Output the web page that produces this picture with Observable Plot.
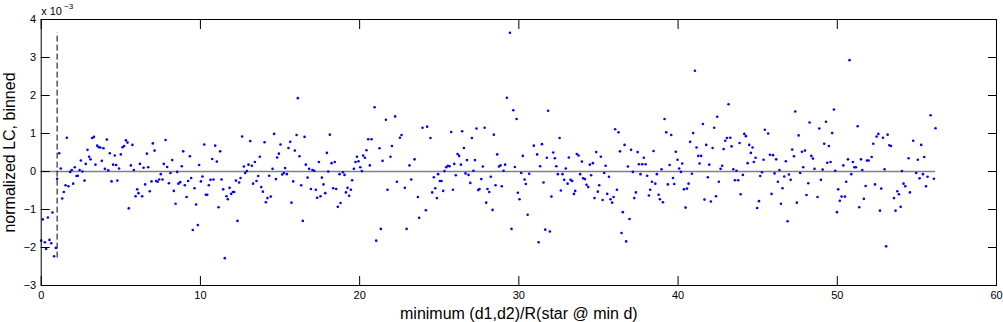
<!DOCTYPE html>
<html><head><meta charset="utf-8">
<script src="https://cdn.jsdelivr.net/npm/d3@7"></script>
<script src="https://cdn.jsdelivr.net/npm/@observablehq/plot@0.6"></script>
<style>
html,body{margin:0;padding:0;background:#fff;}
#chart svg{display:block;}
</style>
</head><body><div id="chart"></div>
<script>
// [x, y (×10^-3)], grouped by x range
const bins0to6 = [[0.00,-1.82],[0.10,-1.26],[0.23,-1.86],[0.31,-2.04],[0.42,-1.21],[0.52,-1.80],[0.63,-1.89],[0.71,-1.08],[0.81,-2.23],[0.92,-2.01],[1.00,-0.19],[1.13,0.48],[1.23,0.08],[1.32,-0.71],[1.42,-0.54],[1.53,-0.36],[1.61,0.89],[1.71,-0.39],[1.82,-0.01],[1.92,0.04],[2.01,-0.32],[2.11,0.11],[2.22,-0.12],[2.30,-0.11],[2.41,0.04],[2.49,0.29],[2.59,0.00],[2.72,-0.24],[2.80,0.20],[2.91,0.57],[3.01,0.39],[3.10,0.32],[3.20,0.88],[3.31,0.91],[3.41,0.18],[3.52,0.68],[3.62,0.64],[3.72,0.63],[3.81,0.28],[3.91,0.61],[4.00,0.07],[4.12,0.84],[4.21,0.03],[4.31,0.48],[4.42,-0.26],[4.52,0.18],[4.62,0.42],[4.71,0.17],[4.78,-0.24],[4.89,0.08],[5.00,0.45],[5.11,0.64],[5.21,0.67],[5.32,0.82],[5.42,0.76],[5.50,-0.97],[5.63,0.16],[5.73,0.70],[5.82,0.04],[5.93,-0.65],[6.03,-0.47],[6.11,-0.57],[6.20,0.20]];
const bins6to12 = [[6.34,-0.65],[6.43,0.10],[6.53,-0.34],[6.64,0.47],[6.72,0.11],[6.82,-0.52],[6.93,-0.26],[7.01,0.74],[7.12,0.55],[7.22,-0.25],[7.31,-0.27],[7.41,-0.21],[7.51,-0.07],[7.62,-0.21],[7.70,0.20],[7.81,0.83],[7.91,0.12],[8.02,-0.31],[8.12,-0.04],[8.23,0.30],[8.33,-0.51],[8.44,-0.85],[8.54,-0.01],[8.62,-0.32],[8.73,-0.28],[8.83,0.14],[8.92,0.53],[9.02,-0.36],[9.13,-0.67],[9.23,-0.25],[9.34,0.40],[9.42,-0.17],[9.52,-1.54],[9.63,-0.44],[9.73,-0.87],[9.84,-1.41],[9.92,0.17],[10.03,-0.26],[10.13,-0.13],[10.24,0.71],[10.34,-0.61],[10.43,-0.61],[10.53,-0.36],[10.63,-0.22],[10.74,0.33],[10.82,-0.21],[10.93,0.68],[11.03,0.26],[11.14,-0.94],[11.24,0.53],[11.33,-0.21],[11.43,-0.47],[11.53,-2.28],[11.64,-0.65],[11.72,-0.73],[11.83,-0.43],[11.93,-0.59],[12.04,-0.54],[12.12,-0.54],[12.23,-0.24],[12.33,-1.30],[12.43,-0.29],[12.52,-0.17]];
const bins12to19 = [[12.62,0.92],[12.73,0.13],[12.81,-0.04],[12.92,0.01],[13.02,0.18],[13.13,0.80],[13.23,0.15],[13.31,-0.32],[13.42,0.25],[13.52,-0.25],[13.63,-0.12],[13.73,0.39],[13.82,-0.41],[13.92,-0.53],[14.03,0.77],[14.11,-0.81],[14.21,-0.70],[14.32,-0.11],[14.42,-0.66],[14.53,0.07],[14.63,0.99],[14.74,-0.20],[14.82,0.37],[14.93,0.47],[15.03,0.71],[15.14,-0.08],[15.24,-0.04],[15.32,0.09],[15.43,-0.07],[15.53,0.62],[15.64,0.78],[15.72,-0.82],[15.83,-0.26],[15.93,0.55],[16.04,0.96],[16.12,1.93],[16.22,0.40],[16.33,-0.36],[16.43,-1.30],[16.54,0.91],[16.62,0.18],[16.73,-0.16],[16.83,0.07],[16.94,-0.46],[17.04,0.04],[17.15,0.02],[17.25,-0.48],[17.33,-0.69],[17.44,0.25],[17.54,-0.65],[17.63,-0.16],[17.73,-0.34],[17.84,-0.57],[17.94,0.49],[18.03,0.00],[18.13,0.97],[18.24,0.22],[18.34,-0.44],[18.44,0.25],[18.53,-0.46],[18.63,-0.93],[18.74,-0.07],[18.80,-0.83]];
const bins19to25 = [[18.95,-0.02],[19.05,-0.09],[19.14,-0.55],[19.24,-0.43],[19.34,-0.64],[19.45,-0.48],[19.53,-0.23],[19.64,0.07],[19.74,0.25],[19.83,0.39],[19.93,0.27],[20.04,0.11],[20.14,0.01],[20.22,0.42],[20.33,0.36],[20.43,0.56],[20.54,0.85],[20.64,0.16],[20.75,0.85],[20.94,1.69],[21.04,-1.82],[21.25,0.61],[21.33,-1.51],[21.44,0.28],[21.65,1.36],[21.75,-0.48],[21.94,0.39],[22.03,0.67],[22.23,1.45],[22.34,-0.27],[22.53,0.89],[22.63,0.96],[22.84,-0.43],[22.95,-1.51],[23.13,0.16],[23.24,-0.21],[23.45,0.32],[23.66,-0.67],[23.74,-1.22],[23.95,1.15],[24.16,-1.02],[24.24,1.18],[24.45,0.88],[24.56,-0.55],[24.66,-0.15],[24.75,-0.44],[24.85,-0.70],[24.93,-0.07],[25.04,-0.25]];
const bins25to31 = [[25.14,-0.25],[25.25,-0.51],[25.33,0.01],[25.44,0.11],[25.54,0.15],[25.65,0.14],[25.75,1.04],[25.86,-0.48],[25.94,0.20],[26.04,-0.10],[26.15,0.46],[26.25,0.41],[26.36,0.18],[26.44,1.06],[26.55,0.62],[26.65,-0.05],[26.74,0.30],[26.84,-0.09],[26.95,-0.30],[27.05,0.88],[27.15,0.02],[27.24,0.30],[27.34,1.13],[27.45,-0.49],[27.53,-0.46],[27.64,-0.20],[27.74,0.13],[27.85,1.15],[27.95,-0.82],[28.03,-0.46],[28.14,-0.54],[28.24,-0.14],[28.35,-1.01],[28.43,0.97],[28.54,-0.36],[28.64,0.45],[28.75,0.13],[28.85,0.16],[28.93,-0.39],[29.04,0.02],[29.14,0.18],[29.25,1.94],[29.44,3.65],[29.54,-1.51],[29.65,1.61],[29.75,0.12],[29.86,1.38],[29.94,-0.56],[30.04,-0.73],[30.15,-0.04],[30.25,0.41],[30.36,-0.21],[30.44,-0.33],[30.55,-1.14],[30.65,-0.06],[30.94,0.68],[31.15,0.45],[31.24,-1.86],[31.34,0.14]];
const bins31to38 = [[31.45,0.72],[31.55,-0.29],[31.66,-1.53],[31.76,0.36],[31.84,1.60],[31.95,-1.58],[32.05,-0.66],[32.16,0.50],[32.26,0.35],[32.35,0.14],[32.45,-0.07],[32.56,0.88],[32.64,-0.50],[32.74,-0.07],[32.85,-0.22],[32.95,0.08],[33.06,-0.32],[33.14,0.37],[33.25,-0.22],[33.35,-0.25],[33.46,-0.59],[33.54,-0.51],[33.64,0.46],[33.75,0.42],[33.85,-0.07],[33.96,0.26],[34.04,-0.18],[34.15,-0.20],[34.25,-0.35],[34.36,-0.41],[34.46,0.18],[34.54,-0.10],[34.65,0.22],[34.75,-0.70],[34.86,0.51],[34.96,-0.53],[35.05,-0.36],[35.15,0.39],[35.26,-0.75],[35.36,-0.04],[35.45,0.15],[35.55,-0.59],[35.66,-0.14],[35.76,-0.73],[35.86,-0.82],[35.95,-0.67],[36.05,1.11],[36.16,-0.48],[36.26,1.03],[36.35,0.53],[36.45,-1.62],[36.53,-1.07],[36.64,0.70],[36.74,-1.84],[36.85,0.13],[36.95,-1.25],[37.05,0.57],[37.16,-0.01],[37.25,-0.70],[37.35,-0.55],[37.46,0.51],[37.54,0.19],[37.64,-0.07]];
const bins38to44 = [[37.75,0.19],[37.85,0.36],[37.96,0.19],[38.06,-0.11],[38.17,-0.63],[38.25,-0.48],[38.36,-0.27],[38.46,0.54],[38.57,-0.32],[38.67,-0.07],[38.78,-0.61],[38.86,-0.73],[38.96,0.06],[39.05,-0.81],[39.15,1.38],[39.26,1.03],[39.36,-0.34],[39.47,0.17],[39.57,0.96],[39.68,-0.17],[39.76,-0.33],[39.86,0.52],[39.97,0.31],[40.07,0.08],[40.18,-0.01],[40.26,0.21],[40.37,-0.47],[40.47,-0.95],[40.56,-0.45],[40.66,-0.32],[40.76,0.78],[40.87,-0.06],[40.95,1.01],[41.06,2.65],[41.16,0.63],[41.27,0.41],[41.35,0.21],[41.45,0.41],[41.56,1.25],[41.66,-0.74],[41.77,0.70],[41.87,-0.15],[41.96,0.18],[42.06,-0.79],[42.17,0.62],[42.27,1.15],[42.38,-0.65],[42.46,1.44],[42.56,-0.27],[42.67,0.07],[42.77,0.15],[42.86,0.59],[42.96,0.81],[43.07,0.88],[43.17,1.77],[43.28,0.89],[43.36,0.66],[43.47,0.06],[43.57,-0.23],[43.67,0.02],[43.78,-0.23],[43.86,0.75],[43.93,-0.60]];
const bins44to50 = [[44.07,-0.09],[44.16,0.99],[44.26,0.93],[44.37,0.22],[44.47,0.70],[44.57,0.49],[44.68,0.63],[44.76,0.25],[44.87,0.36],[44.97,-0.96],[45.08,-0.78],[45.16,-0.12],[45.27,-0.02],[45.37,0.31],[45.45,1.10],[45.66,1.00],[45.77,0.44],[45.87,-0.59],[45.96,0.43],[46.06,-0.05],[46.16,0.32],[46.27,-0.27],[46.37,0.04],[46.46,-0.85],[46.56,-0.44],[46.67,-0.13],[46.77,0.27],[46.88,-1.31],[46.96,-0.08],[47.07,-0.22],[47.17,0.58],[47.28,0.40],[47.36,1.58],[47.46,-0.82],[47.57,0.95],[47.67,-0.04],[47.78,0.52],[47.86,0.11],[47.97,0.55],[48.07,-0.62],[48.18,-0.31],[48.26,1.29],[48.37,0.41],[48.47,0.34],[48.57,0.07],[48.76,-0.67],[48.87,1.13],[48.97,-0.22],[49.08,0.05],[49.18,0.73],[49.29,1.31],[49.37,0.23],[49.47,0.67],[49.58,0.25],[49.68,1.01],[49.79,1.63],[49.87,0.02],[49.98,-1.07],[50.06,-0.47],[50.16,-0.77]];
const bins50to57 = [[50.27,-0.66],[50.38,0.16],[50.48,-0.66],[50.56,-0.27],[50.67,0.32],[50.77,2.93],[50.88,-0.07],[50.98,0.25],[51.07,0.11],[51.17,0.11],[51.28,1.19],[51.38,-0.94],[51.49,0.32],[51.57,0.04],[51.67,-0.72],[51.78,-0.38],[51.86,0.29],[51.97,0.29],[52.16,0.38],[52.26,0.73],[52.37,-0.34],[52.47,0.92],[52.58,0.99],[52.68,-1.03],[52.76,-0.45],[52.87,0.89],[52.97,0.06],[53.07,-1.97],[53.16,0.97],[53.27,0.69],[53.37,0.67],[53.56,-0.70],[53.66,-1.03],[53.77,-0.52],[53.87,-0.60],[53.98,-0.93],[54.06,0.01],[54.16,-0.32],[54.27,-0.39],[54.48,0.35],[54.56,-0.55],[54.77,0.81],[54.96,-0.04],[55.06,0.31],[55.17,-0.18],[55.27,0.70],[55.38,-0.07],[55.46,0.38],[55.57,-0.39],[55.67,-0.14],[55.86,1.48],[56.07,-0.19],[56.17,1.14]];

const xTicks = [0, 10, 20, 30, 40, 50, 60];
const yTicks = [-3, -2, -1, 0, 1, 2, 3, 4];
const cutoff = 1;
const xLabel = "minimum (d1,d2)/R(star @ min d)";
const yLabel = "normalized LC, binned";
const exponentBase = "x 10";
const exponent = "\u22123";

const points = [...bins0to6, ...bins6to12, ...bins12to19, ...bins19to25, ...bins25to31,
  ...bins31to38, ...bins38to44, ...bins44to50, ...bins50to57].map(([x, y]) => ({x, y}));
const xMin = d3.min(points, d => d.x), xMax = d3.max(points, d => d.x);
const yMin = d3.min(points, d => d.y), yMax = d3.max(points, d => d.y);

const chart = Plot.plot({
  width: 1003, height: 322,
  marginLeft: 40.7, marginRight: 7, marginTop: 19, marginBottom: 37,
  style: {fontFamily: "'Liberation Sans', Arial, Helvetica, sans-serif", fontSize: "11px", background: "#fff", color: "#000", overflow: "visible"},
  x: {domain: [0, 60]},
  y: {domain: [-3, 4]},
  marks: [
    Plot.ruleY([0], {x1: xMin, x2: xMax, stroke: "#808080", strokeWidth: 1.5}),
    Plot.ruleX([cutoff], {y1: yMin, y2: yMax, stroke: "#000", strokeWidth: 1, strokeDasharray: "6,3"}),
    Plot.dot(points, {x: "x", y: "y", r: 1.3, fill: "#0000ff", stroke: null}),
    Plot.axisX(xTicks, {anchor: "bottom", tickSize: -9, tickPadding: 15, label: null, fontSize: 11}),
    Plot.axisX(xTicks, {anchor: "top", tickSize: -9, tickFormat: () => "", label: null}),
    Plot.axisY(yTicks, {anchor: "left", tickSize: -9, tickPadding: 14, label: null, fontSize: 11}),
    Plot.axisY(yTicks, {anchor: "right", tickSize: -9, tickFormat: () => "", label: null}),
    Plot.frame({stroke: "#000", strokeWidth: 1}),
    Plot.text([xLabel], {frameAnchor: "bottom", dy: 28, fontSize: 16, textAnchor: "middle", lineAnchor: "middle"}),
    Plot.text([yLabel], {frameAnchor: "left", dx: -31, rotate: -90, fontSize: 16, textAnchor: "middle", lineAnchor: "middle"}),
    Plot.text([exponentBase], {frameAnchor: "top-left", dy: -5, textAnchor: "start", lineAnchor: "bottom", fontSize: 11}),
    Plot.text([exponent], {frameAnchor: "top-left", dx: 23, dy: -11, textAnchor: "start", lineAnchor: "bottom", fontSize: 8})
  ]
});
document.getElementById("chart").appendChild(chart);
</script>
</body></html>
